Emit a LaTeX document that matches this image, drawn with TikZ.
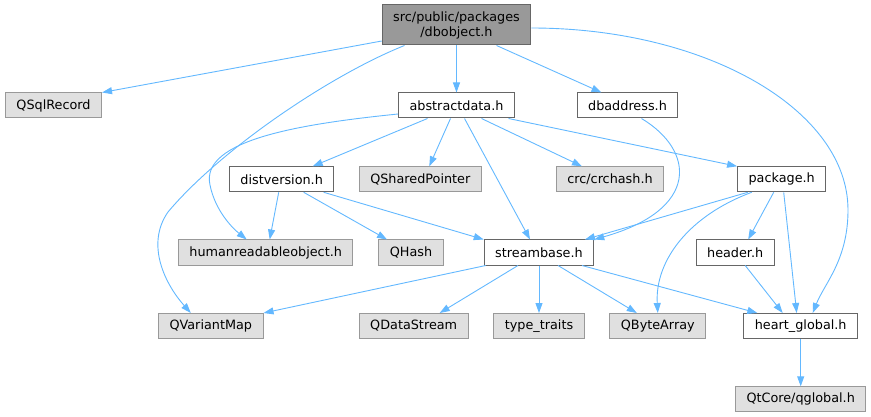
\documentclass[tikz,border=0pt]{standalone}
\usepackage{fontspec}
\setmainfont{DejaVu Sans}
\usepackage{tikz}
\usetikzlibrary{arrows.meta}
\definecolor{edgeblue}{RGB}{99,184,255}
\definecolor{boxgray}{RGB}{224,224,224}
\definecolor{linegray}{RGB}{153,153,153}
\definecolor{linedark}{RGB}{102,102,102}
\definecolor{rootgray}{RGB}{153,153,153}

\begin{document}
\begin{tikzpicture}[x=1pt, y=-1pt,
  file/.style={draw=linedark, fill=white, line width=1pt, inner xsep=11pt, inner ysep=0pt,
    minimum height=25pt, font=\fontsize{12.8}{15}\selectfont},
  sys/.style={file, draw=linegray, fill=boxgray},
  dep/.style={draw=edgeblue, line width=0.9pt, -{Triangle[length=10pt,width=7pt]}}]
\useasboundingbox (0,0) rectangle (871,417);

% Root
\node[file, fill=rootgray, minimum height=40pt, align=center] (root) at (456.5,25) {src/public/packages\\/dbobject.h};

% Row 1
\node[sys]  (qsql)    at (53.5,105.5)  {QSqlRecord};
\node[file] (absdata) at (456.5,105.5) {abstractdata.h};
\node[file] (dbaddr)  at (627.5,105.5) {dbaddress.h};

% Row 2
\node[file] (distver) at (281.7,179.3) {distversion.h};
\node[sys]  (qshared) at (420.3,179.3) {QSharedPointer};
\node[sys]  (crchash) at (610,179.3)   {crc/crchash.h};
\node[file] (package) at (781.7,179.3) {package.h};

% Row 3
\node[sys]  (hro)    at (265.7,252.5) {humanreadableobject.h};
\node[sys]  (qhash)  at (411,252.5)   {QHash};
\node[file] (stream) at (539,252.5)   {streambase.h};
\node[file] (header) at (735.2,252.5) {header.h};

% Row 4
\node[sys]  (qvmap)  at (210.8,326)   {QVariantMap};
\node[sys]  (qdata)  at (413.7,326)   {QDataStream};
\node[sys]  (typetr) at (539,326)     {type\_traits};
\node[sys]  (qbyte)  at (657.8,326)   {QByteArray};
\node[file] (heart)  at (800.7,326)   {heart\_global.h};

% Row 5
\node[sys]  (qglobal) at (800.7,399.3) {QtCore/qglobal.h};

% Root edges
\draw[dep] ([yshift=-16pt]root.west) -- (qsql.north east);
\draw[dep] ([xshift=-52pt]root.south) .. controls +(-75,30) and +(52,-62) .. (168,212)
  .. controls +(-23,33) and +(-25,-28) .. ([xshift=-20pt]qvmap.north);
\draw[dep] (root.south) -- (absdata.north);
\draw[dep] ([xshift=40pt]root.south) -- ([xshift=-26pt]dbaddr.north);
\draw[dep] ([yshift=-3pt]root.east) .. controls +(175,0) and +(0,-100) .. (848,210)
  .. controls +(0,50) and +(12,-30) .. ([xshift=12pt]heart.north);

% abstractdata.h edges
\draw[dep] ([yshift=-8.5pt]absdata.west) .. controls +(-98,10) and +(-10,-45) .. (210,185)
  .. controls +(5,25) and +(-15,-12) .. ([xshift=-19pt]hro.north);
\draw[dep] ([xshift=-29pt]absdata.south) -- ([xshift=31pt]distver.north);
\draw[dep] ([xshift=-6pt]absdata.south) -- ([xshift=9pt]qshared.north);
\draw[dep] ([xshift=8pt]absdata.south) -- ([xshift=-9pt]stream.north);
\draw[dep] ([xshift=25pt]absdata.south) -- ([xshift=-28pt]crchash.north);
\draw[dep] ([xshift=52pt]absdata.south) -- (package.north west);

% dbaddress.h
\draw[dep] ([xshift=14pt]dbaddr.south) .. controls +(53.5,32) and +(106,-30) .. (stream.north east);

% distversion.h
\draw[dep] ([xshift=-3pt]distver.south) -- ([xshift=4pt]hro.north);
\draw[dep] ([xshift=22pt]distver.south) -- ([xshift=-24pt]qhash.north);
\draw[dep] ([xshift=42pt]distver.south) -- (stream.north west);

% package.h
\draw[dep] ([xshift=-34pt]package.south) -- ([xshift=46pt]stream.north);
\draw[dep] ([xshift=-30pt]package.south) .. controls +(-62,23) and +(-3,-53) .. (qbyte.north);
\draw[dep] ([xshift=-8pt]package.south) -- ([xshift=13pt]header.north);
\draw[dep] ([xshift=2pt]package.south) -- ([xshift=-4pt]heart.north);
\draw[dep] ([xshift=10pt]header.south) -- ([xshift=-18pt]heart.north);

% streambase.h
\draw[dep] ([xshift=2pt]stream.south west) -- (qvmap.north east);
\draw[dep] ([xshift=-21pt]stream.south) -- ([xshift=26pt]qdata.north);
\draw[dep] (stream.south) -- (typetr.north);
\draw[dep] ([xshift=19pt]stream.south) -- ([xshift=-21pt]qbyte.north);
\draw[dep] ([xshift=43pt]stream.south) -- ([xshift=14pt]heart.north west);

% heart_global.h
\draw[dep] (heart.south) -- (qglobal.north);
\end{tikzpicture}
\end{document}
